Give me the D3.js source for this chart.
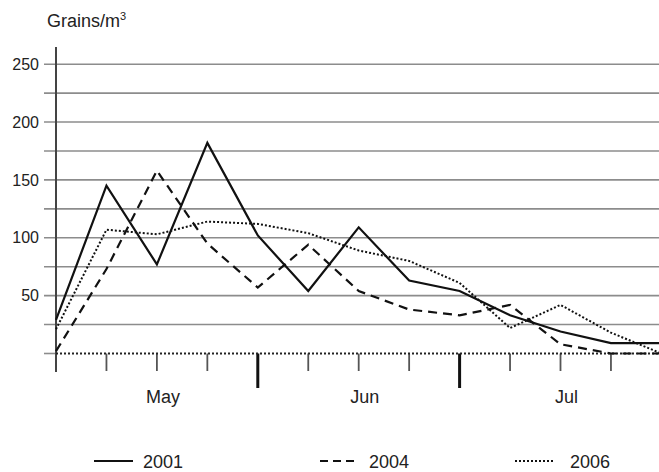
<!DOCTYPE html>
<html>
<head>
<meta charset="utf-8">
<script src="https://cdn.jsdelivr.net/npm/d3@7"></script>
<style>
  html, body { margin: 0; padding: 0; background: #fff; }
  svg { display: block; font-family: "Liberation Sans", Arial, Helvetica, sans-serif; }
</style>
</head>
<body>
<svg id="chart" width="659" height="472"></svg>
<script>
// ---- data ----
const weeks = [0, 1, 2, 3, 4, 5, 6, 7, 8, 9, 10, 11, 12];
const months = ["May", "Jun", "Jul"];
const monthStartWeeks = [0, 4, 8];
const weeksPerMonth = 4;
const s2001 = [29, 145, 77, 182, 102, 54, 109, 63, 54, 33, 19, 9, 9];
const s2004 = [2, 73, 158, 95, 57, 94, 54, 38, 33, 42, 8, 0, 0];
const s2006 = [21, 107, 103, 114, 112, 104, 89, 80, 61, 22, 42, 18, 0];
const yTicks = [50, 100, 150, 200, 250];
const yGrid = [25, 50, 75, 100, 125, 150, 175, 200, 225, 250];
const seriesNames = ["2001", "2004", "2006"];
const yLabel = "Grains/m";

// ---- layout ----
const svg = d3.select("#chart");
const x = d3.scaleLinear().domain([0, 12]).range([56, 661.4]);
const y = d3.scaleLinear().domain([0, 250]).range([353.5, 64.2]);

const styles = [
  { dash: null, width: 2.2 },
  { dash: "9,6", width: 2.2 },
  { dash: "2,2", width: 2 }
];

// grid lines
svg.append("g").selectAll("line").data(yGrid).join("line")
  .attr("x1", 44).attr("x2", 659)
  .attr("y1", d => y(d)).attr("y2", d => y(d))
  .attr("stroke", "#8c8c8c").attr("stroke-width", 1.6);

// short grid stub at 0
svg.append("line").attr("x1", 44).attr("x2", 56)
  .attr("y1", y(0)).attr("y2", y(0))
  .attr("stroke", "#8c8c8c").attr("stroke-width", 1.6);

// y tick labels via axis
const yAxis = d3.axisLeft(y).tickValues(yTicks).tickSize(0).tickPadding(0);
const gy = svg.append("g").attr("transform", "translate(39,0)").call(yAxis);
gy.select(".domain").remove();
gy.selectAll("text").attr("font-size", 16).attr("fill", "#222")
  .attr("font-family", "'Liberation Sans', Arial, sans-serif");

// y axis line
svg.append("line").attr("x1", x(0)).attr("x2", x(0))
  .attr("y1", 47).attr("y2", 372)
  .attr("stroke", "#444").attr("stroke-width", 2);

// x ticks
const monthBoundaries = monthStartWeeks.slice(1);
svg.append("g").selectAll("line").data(weeks.slice(1)).join("line")
  .attr("x1", d => x(d)).attr("x2", d => x(d))
  .attr("y1", y(0)).attr("y2", d => monthBoundaries.includes(d) ? 388 : 371)
  .attr("stroke", d => monthBoundaries.includes(d) ? "#111" : "#555")
  .attr("stroke-width", d => monthBoundaries.includes(d) ? 3 : 1.8);

// dotted baseline
svg.append("line").attr("x1", x(0)).attr("x2", 659)
  .attr("y1", y(0)).attr("y2", y(0))
  .attr("stroke", "#222").attr("stroke-width", 2).attr("stroke-dasharray", "2,2");

// month labels
svg.append("g").selectAll("text").data(months).join("text")
  .attr("x", (d, i) => x(monthStartWeeks[i] + weeksPerMonth / 2) + 6)
  .attr("y", 403)
  .attr("text-anchor", "middle")
  .attr("font-size", 18).attr("fill", "#222")
  .text(d => d);

// series lines
const line = d3.line().x((d, i) => x(weeks[i])).y(d => y(d));
[s2001, s2004, s2006].forEach((s, k) => {
  svg.append("path").datum(s)
    .attr("d", line)
    .attr("fill", "none")
    .attr("stroke", "#111")
    .attr("stroke-width", styles[k].width)
    .attr("stroke-linejoin", "miter")
    .attr("stroke-dasharray", styles[k].dash);
});

// y label
const yl = svg.append("text").attr("x", 47).attr("y", 27)
  .attr("font-size", 18).attr("fill", "#222");
yl.append("tspan").text(yLabel);
yl.append("tspan").attr("font-size", 11).attr("dy", -7).text("3");

// legend
const legX = [94, 320, 515];
const legG = svg.append("g").selectAll("g").data(seriesNames).join("g")
  .attr("transform", (d, i) => `translate(${legX[i]},461)`);
legG.append("line").attr("x1", 0).attr("x2", 39).attr("y1", 0).attr("y2", 0)
  .attr("stroke", "#111")
  .attr("stroke-width", (d, i) => styles[i].width)
  .attr("stroke-dasharray", (d, i) => i === 1 ? "8,5" : styles[i].dash);
legG.append("text").attr("x", (d, i) => i === 2 ? 55 : 49).attr("y", 6.5)
  .attr("font-size", 18).attr("fill", "#222").text(d => d);
</script>
</body>
</html>
